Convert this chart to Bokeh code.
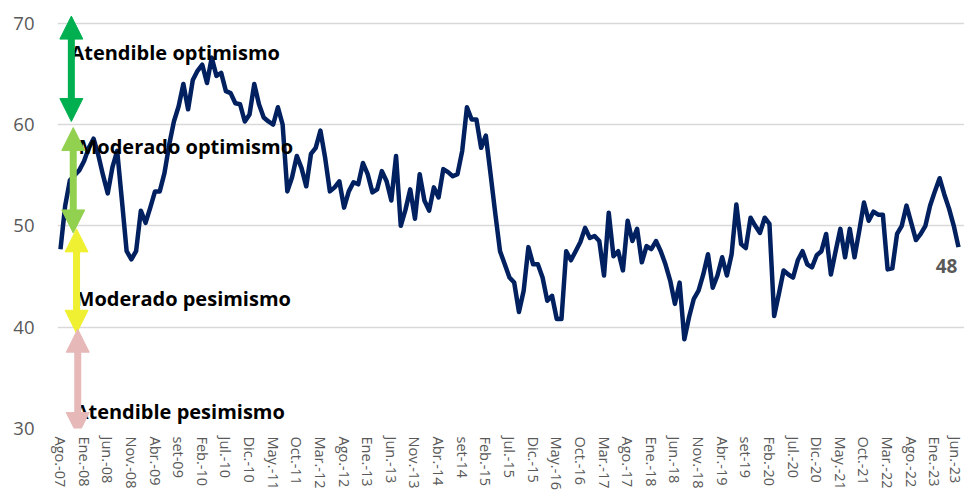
from bokeh.plotting import figure
from bokeh.models import FixedTicker, Arrow, NormalHead, Range1d
from bokeh.core.properties import value
from bokeh.embed import file_html
from bokeh.resources import INLINE

# ---- data ----
values = [
    47.7, 52.0, 54.5, 55.0, 55.5, 56.4, 57.7, 58.6, 57.0, 55.0,
    53.2, 55.8, 57.4, 52.5, 47.5, 46.7, 47.5, 51.5, 50.3, 51.8,
    53.4, 53.4, 55.2, 58.0, 60.3, 61.8, 64.0, 61.5, 64.4, 65.3,
    65.9, 64.1, 66.6, 64.8, 65.1, 63.3, 63.1, 62.1, 62.0, 60.3,
    61.0, 64.0, 62.0, 60.7, 60.3, 60.0, 61.7, 60.0, 53.4, 54.8,
    56.9, 55.7, 53.9, 57.1, 57.7, 59.4, 56.7, 53.4, 53.8, 54.4,
    51.8, 53.4, 54.3, 54.1, 56.2, 55.1, 53.3, 53.6, 55.4, 54.4,
    52.5, 56.9, 50.0, 51.6, 53.6, 50.7, 55.1, 52.5, 51.5, 53.8,
    52.8, 55.6, 55.3, 54.9, 55.1, 57.4, 61.7, 60.5, 60.5, 57.7,
    58.9, 55.1, 51.2, 47.5, 46.2, 44.9, 44.4, 41.5, 43.6, 47.9,
    46.2, 46.2, 44.9, 42.6, 43.1, 40.8, 40.8, 47.5, 46.6, 47.5,
    48.4, 49.8, 48.8, 49.0, 48.5, 45.1, 51.3, 47.0, 47.5, 45.6,
    50.5, 48.5, 49.7, 46.4, 48.0, 47.7, 48.5, 47.5, 46.2, 44.6,
    42.3, 44.4, 38.8, 41.0, 42.8, 43.6, 45.2, 47.2, 43.9, 45.1,
    46.9, 45.1, 47.2, 52.1, 48.2, 47.8, 50.8, 50.0, 49.3, 50.8,
    50.2, 41.1, 43.3, 45.6, 45.2, 44.9, 46.6, 47.5, 46.2, 45.9,
    47.1, 47.5, 49.2, 45.2, 47.5, 49.7, 46.9, 49.7, 46.9, 49.5,
    52.3, 50.5, 51.4, 51.1, 51.1, 45.7, 45.8, 49.2, 50.0, 52.0,
    50.3, 48.6, 49.2, 50.0, 52.0, 53.4, 54.7, 53.1, 51.7, 50.0,
    47.9,
]
months = list(range(len(values)))

tick_labels = ["Ago.-07", "Ene.-08", "Jun.-08", "Nov.-08", "Abr.-09", "set-09",
               "Feb.-10", "Jul.-10", "Dic.-10", "May.-11", "Oct.-11", "Mar.-12",
               "Ago.-12", "Ene.-13", "Jun.-13", "Nov.-13", "Abr.-14", "set-14",
               "Feb.-15", "Jul.-15", "Dic.-15", "May.-16", "Oct.-16", "Mar.-17",
               "Ago.-17", "Ene.-18", "Jun.-18", "Nov.-18", "Abr.-19", "set-19",
               "Feb.-20", "Jul.-20", "Dic.-20", "May.-21", "Oct.-21", "Mar.-22",
               "Ago.-22", "Ene.-23", "Jun.-23"]
tick_pos = [i * 5 for i in range(len(tick_labels))]

y_ticks = [30, 40, 50, 60, 70]

zone_labels = ["Atendible optimismo", "Moderado optimismo",
               "Moderado pesimismo", "Atendible pesimismo"]
zone_label_x = [2.1, 3.8, 3.2, 3.0]
zone_label_y = [67.1, 57.8, 42.8, 31.7]

arrow_x = [2.3, 2.7, 3.4, 3.65]
arrow_top = [70.7, 59.7, 49.7, 39.8]
arrow_bottom = [60.3, 49.3, 39.4, 29.3]
arrow_colors = ["#00b050", "#92d050", "#f0f032", "#e6b9b8"]

# ---- figure ----
p = figure(width=964, height=500, output_backend="svg", toolbar_location=None,
           x_range=Range1d(-0.63, 191.27), y_range=Range1d(30, 71.45),
           min_border_left=57, min_border_right=0, min_border_top=8,
           min_border_bottom=72)
p.outline_line_color = None
p.background_fill_color = "white"

p.line(months, values, line_color="#002060", line_width=4.5, line_join="round")

for xa, yt, yb, c in zip(arrow_x, arrow_top, arrow_bottom, arrow_colors):
    p.add_layout(Arrow(
        x_start=xa, y_start=yb + 1.6, x_end=xa, y_end=yt - 1.6,
        line_color=c, line_width=7, line_cap="butt",
        start=None, end=None))
    p.add_layout(Arrow(
        x_start=xa, y_start=(yt + yb) / 2, x_end=xa, y_end=yt,
        line_alpha=0, line_width=0,
        end=NormalHead(size=23, fill_color=c, line_color=c, line_width=1)))
    p.add_layout(Arrow(
        x_start=xa, y_start=(yt + yb) / 2, x_end=xa, y_end=yb,
        line_alpha=0, line_width=0,
        end=NormalHead(size=23, fill_color=c, line_color=c, line_width=1)))

p.text(zone_label_x, zone_label_y, text=zone_labels, text_font=value("Open Sans"),
       text_font_style="bold", text_font_size="20px", text_color="black",
       text_align="left", text_baseline="middle")

p.text([months[-1]], [values[-1]], text=[str(round(values[-1]))],
       text_font=value("Open Sans"), text_font_style="bold", text_font_size="19px",
       text_color="#595959", text_align="center", text_baseline="middle",
       x_offset=-12, y_offset=19)

# axes
p.xaxis.ticker = FixedTicker(ticks=tick_pos)
p.xaxis.major_label_overrides = {t: l for t, l in zip(tick_pos, tick_labels)}
p.xaxis.major_label_orientation = "vertical"
p.xaxis.major_label_text_font = "Open Sans"
p.xaxis.major_label_text_font_size = "14.5px"
p.xaxis.major_label_text_color = "#595959"
p.xaxis.major_tick_out = 0
p.xaxis.major_label_standoff = 8
p.xaxis.axis_line_color = None
p.xaxis.major_tick_line_color = None
p.xaxis.minor_tick_line_color = None

p.yaxis.ticker = FixedTicker(ticks=y_ticks)
p.yaxis.major_label_text_font = "Open Sans"
p.yaxis.major_label_text_font_size = "18.5px"
p.yaxis.major_label_text_color = "#595959"
p.yaxis.major_tick_out = 0
p.yaxis.major_label_standoff = 23
p.yaxis.axis_line_color = None
p.yaxis.major_tick_line_color = None
p.yaxis.minor_tick_line_color = None

p.xgrid.grid_line_color = None
p.ygrid.ticker = FixedTicker(ticks=y_ticks)
p.ygrid.grid_line_color = "#d9d9d9"
p.ygrid.grid_line_width = 1.5

open("out.html", "w").write(file_html(p, INLINE))
